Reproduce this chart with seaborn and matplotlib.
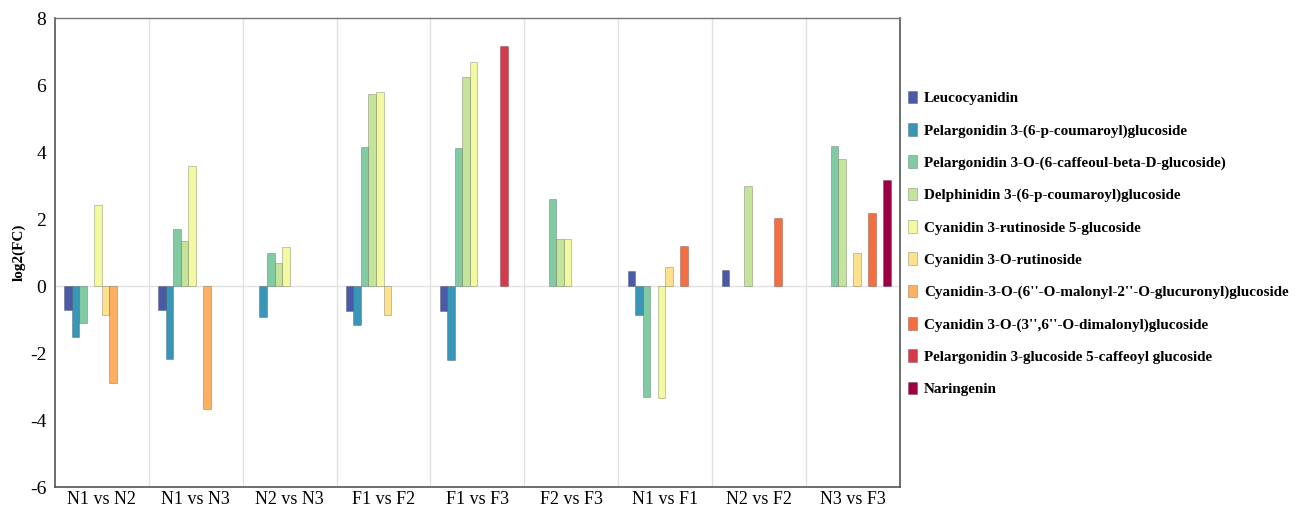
import pandas as pd
import matplotlib.pyplot as plt
import seaborn as sns

# 비교 그룹과 화합물
comparisons = ['N1 vs N2', 'N1 vs N3', 'N2 vs N3', 'F1 vs F2', 'F1 vs F3',
               'F2 vs F3', 'N1 vs F1', 'N2 vs F2', 'N3 vs F3']
compounds = [
    'Leucocyanidin',
    'Pelargonidin 3-(6-p-coumaroyl)glucoside',
    'Pelargonidin 3-O-(6-caffeoul-beta-D-glucoside)',
    'Delphinidin 3-(6-p-coumaroyl)glucoside',
    'Cyanidin 3-rutinoside 5-glucoside',
    'Cyanidin 3-O-rutinoside',
    "Cyanidin-3-O-(6''-O-malonyl-2''-O-glucuronyl)glucoside",
    "Cyanidin 3-O-(3'',6''-O-dimalonyl)glucoside",
    'Pelargonidin 3-glucoside 5-caffeoyl glucoside',
    'Naringenin',
]

# log2(FC) 값 (화합물 순서대로, 0 = 막대 없음)
n1_n2 = [-0.72, -1.53, -1.11, 0, 2.42, -0.87, -2.90, 0, 0, 0]
n1_n3 = [-0.72, -2.16, 1.72, 1.35, 3.59, 0, -3.65, 0, 0, 0]
n2_n3 = [0, -0.92, 0.98, 0.68, 1.17, 0, 0, 0, 0, 0]
f1_f2 = [-0.75, -1.16, 4.16, 5.75, 5.80, -0.85, 0, 0, 0, 0]
f1_f3 = [-0.75, -2.21, 4.13, 6.25, 6.70, 0, 0, 0, 7.16, 0]
f2_f3 = [0, 0, 2.60, 1.42, 1.40, 0, 0, 0, 0, 0]
n1_f1 = [0.45, -0.87, -3.32, 0, -3.35, 0.58, 0, 1.20, 0, 0]
n2_f2 = [0.48, 0, 0, 2.99, 0, 0, 0, 2.05, 0, 0]
n3_f3 = [0, 0, 4.18, 3.81, 0, 1.00, 0, 2.20, 0, 3.16]

values = [n1_n2, n1_n3, n2_n3, f1_f2, f1_f3, f2_f3, n1_f1, n2_f2, n3_f3]

rows = []
for comp, vals in zip(comparisons, values):
    for name, v in zip(compounds, vals):
        if v != 0:
            rows.append({'comparison': comp, 'compound': name, 'log2FC': v})
df = pd.DataFrame(rows)

colors = ['#4a5aa8', '#3a96b8', '#80cba2', '#c4e49c', '#f3f9a0',
          '#fde18c', '#fdb062', '#f46e42', '#d63b4b', '#9e0142']

plt.rcParams['font.family'] = ['Liberation Serif', 'DejaVu Serif']
plt.rcParams['axes.unicode_minus'] = False

fig = plt.figure(figsize=(13.01, 5.07), dpi=100)
ax = fig.add_axes([0.042, 0.039, 0.65, 0.925])

sns.barplot(data=df, x='comparison', y='log2FC', hue='compound',
            order=comparisons, hue_order=compounds, palette=colors,
            saturation=1, width=0.8, dodge=True,
            edgecolor=(0, 0, 0, 0.25), linewidth=0.6, ax=ax, legend=True)

ax.set_ylim(-6, 8)
ax.set_xlim(-0.5, len(comparisons) - 0.5)
ax.set_yticks(range(-6, 9, 2))
for b in range(1, len(comparisons)):
    ax.axvline(b - 0.5, color='#e2e2e2', lw=1, zorder=0)
ax.axhline(0, color='#e2e2e2', lw=1, zorder=0)

ax.set_xlabel('')
ax.set_ylabel('log2(FC)', fontsize=11, fontweight='bold', labelpad=3)
ax.tick_params(axis='both', length=0)
ax.tick_params(axis='y', labelsize=14, pad=6)
ax.tick_params(axis='x', pad=3, labelsize=13)
for s in ['left', 'bottom', 'right']:
    ax.spines[s].set_color('#555555')
    ax.spines[s].set_linewidth(1.2)
ax.spines['top'].set_color('#777777')
ax.spines['top'].set_linewidth(1.0)

handles, labels = ax.get_legend_handles_labels()
ax.legend(handles, labels, loc='upper left', bbox_to_anchor=(0.997, 0.868),
          frameon=False, prop={'weight': 'bold', 'size': 10.9},
          handlelength=0.6, handleheight=0.9, handletextpad=0.45,
          labelspacing=1.17, borderaxespad=0.3)

plt.savefig('out.png', dpi=100)
